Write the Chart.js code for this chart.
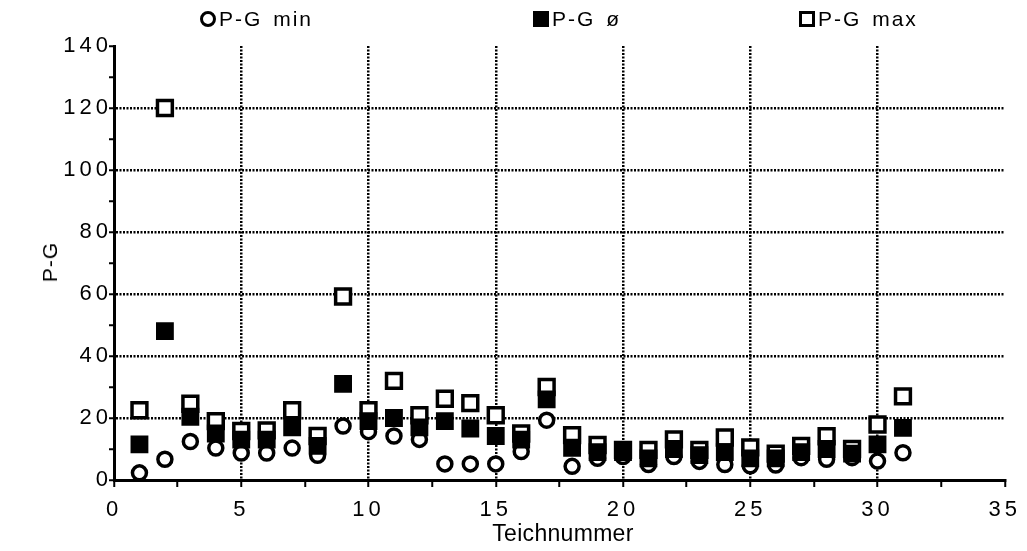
<!DOCTYPE html>
<html>
<head>
<meta charset="utf-8">
<script src="https://cdn.jsdelivr.net/npm/chart.js@4"></script>
<style>
  body { margin: 0; background: #fff; }
  #wrap { position: relative; width: 1027px; height: 551px; font-family: "Liberation Sans", Arial, sans-serif; color: #000; }
  .legend-item { position: absolute; top: 7px; height: 24px; display: flex; align-items: center; font-size: 21px; letter-spacing: 2px; word-spacing: 3px; }
  .sym { display: inline-block; box-sizing: border-box; width: 16px; height: 16px; margin-right: 3px; border: 3px solid #000; background: #fff; }
  .sym.circle { border-radius: 50%; }
  .sym.filled { background: #000; }
  #ytitle { position: absolute; left: 50px; top: 262px; transform: translate(-50%, -50%) rotate(-90deg); font-size: 21px; letter-spacing: 1px; }
  #xtitle { position: absolute; left: 563px; top: 533px; transform: translate(-50%, -50%); font-size: 23px; letter-spacing: 0.3px; }
</style>
</head>
<body>
<div id="wrap">
  <canvas id="chart" width="1027" height="551"></canvas>
  <div class="legend-item" style="left:200px"><span class="sym circle"></span>P-G min</div>
  <div class="legend-item" style="left:533px"><span class="sym filled"></span>P-G ø</div>
  <div class="legend-item" style="left:799px"><span class="sym"></span>P-G max</div>
  <div id="ytitle">P-G</div>
  <div id="xtitle">Teichnummer</div>
</div>
<script>
const ponds = [1, 2, 3, 4, 5, 6, 7, 8, 9, 10, 11, 12, 13, 14, 15, 16, 17, 18, 19, 20, 21, 22, 23, 24, 25, 26, 27, 28, 29, 30, 31];
const pgMin = [2.3, 6.7, 12.4, 10.3, 8.7, 8.7, 10.3, 8, 17.4, 15.6, 14.2, 13.1, 5.2, 5.2, 5.2, 9.2, 19.3, 4.4, 7, 7.6, 5, 7.6, 6, 5, 4.6, 4.8, 7.2, 6.7, 7.2, 6.1, 8.8];
const pgAvg = [11.5, 48, 20.4, 15, 13, 13, 17, 11, 31, 19, 20, 17, 19, 16.6, 14.2, 13, 26, 10.4, 9, 9, 7, 10, 8, 9, 7, 7, 9, 10, 8.5, 11.5, 16.8];
const pgMax = [22.5, 120, 24.6, 19, 15.8, 16, 22.5, 14.2, 59.2, 22.5, 32, 20.9, 26.2, 24.8, 20.9, 15, 30, 14.5, 11.3, 9.7, 9.7, 13.1, 9.7, 13.7, 10.5, 8.5, 11, 14.1, 10, 17.9, 27];

function points(values) {
  return ponds.map((p, i) => ({ x: p, y: values[i] }));
}

// tick labels in the original are widely spaced
const spacedTicks = {
  id: "spacedTicks",
  beforeDraw(chart) { chart.ctx.letterSpacing = "4px"; },
  afterDraw(chart) { chart.ctx.letterSpacing = "0px"; },
};

const tickFont = { family: "'Liberation Sans', Arial, sans-serif", size: 22 };

new Chart(document.getElementById("chart"), {
  type: "scatter",
  data: {
    datasets: [
      {
        label: "P-G min",
        data: points(pgMin),
        pointStyle: "circle",
        pointRadius: 7,
        pointBorderWidth: 3.5,
        borderColor: "#000",
        backgroundColor: "#fff",
        order: 2,
      },
      {
        label: "P-G ø",
        data: points(pgAvg),
        pointStyle: "rect",
        pointRadius: 10.5,
        pointBorderWidth: 3,
        borderColor: "#000",
        backgroundColor: "#000",
        order: 1,
      },
      {
        label: "P-G max",
        data: points(pgMax),
        pointStyle: "rect",
        pointRadius: 10.5,
        pointBorderWidth: 3.5,
        borderColor: "#000",
        backgroundColor: "#fff",
        order: 3,
      },
    ],
  },
  options: {
    responsive: false,
    animation: false,
    layout: { padding: { top: 46, right: 22, left: 0, bottom: 0 } },
    plugins: {
      legend: { display: false },
      tooltip: { enabled: false },
    },
    scales: {
      x: {
        type: "linear",
        min: 0,
        max: 35,
        afterFit(scale) { scale.height = 71; },
        ticks: {
          stepSize: 2.5,
          color: "#000",
          font: tickFont,
          padding: 10,
          maxRotation: 0,
          autoSkip: false,
          callback: (v) => (v % 5 === 0 ? v : ""),
        },
        grid: {
          color: (ctx) => {
            const v = ctx.tick ? ctx.tick.value : 0;
            return v % 5 === 0 && v > 0 && v < 35 ? "#000" : "rgba(0,0,0,0)";
          },
          lineWidth: 2.5,
          tickColor: "#000",
          tickLength: 7,
          tickWidth: 2,
        },
        border: { color: "#000", width: 3, dash: [2, 1.5] },
      },
      y: {
        min: 0,
        max: 140,
        afterFit(scale) { scale.width = 114; },
        ticks: {
          stepSize: 10,
          color: "#000",
          font: tickFont,
          padding: -3,
          autoSkip: false,
          callback: (v) => (v % 20 === 0 ? v : ""),
        },
        grid: {
          color: (ctx) => {
            const v = ctx.tick ? ctx.tick.value : 0;
            return v % 20 === 0 && v > 0 && v < 140 ? "#000" : "rgba(0,0,0,0)";
          },
          lineWidth: 2.5,
          tickColor: "#000",
          tickLength: 5,
          tickWidth: 2,
        },
        border: { color: "#000", width: 3, dash: [2, 1.5] },
      },
    },
  },
  plugins: [spacedTicks],
});
</script>
</body>
</html>
